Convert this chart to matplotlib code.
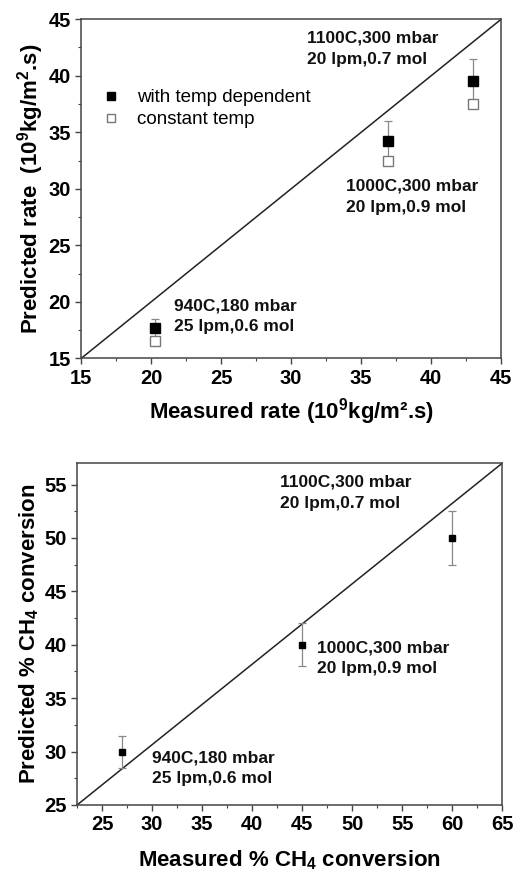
import matplotlib
matplotlib.use('Agg')
import matplotlib.pyplot as plt
from matplotlib.lines import Line2D
from matplotlib.ticker import MultipleLocator

plt.rcParams['font.family'] = ['Liberation Sans', 'DejaVu Sans']
plt.rcParams['mathtext.fontset'] = 'custom'
plt.rcParams['mathtext.rm'] = 'Liberation Sans:bold'
plt.rcParams['mathtext.it'] = 'Liberation Sans:bold'
plt.rcParams['mathtext.bf'] = 'Liberation Sans:bold'

# top panel: rate
rate_measured = [20.3, 36.9, 43.0]
rate_pred_temp = [17.7, 34.2, 39.5]
rate_pred_temp_err = [0.8, 1.8, 2.0]
rate_pred_const = [16.5, 32.5, 37.5]
rate_notes = ['940C,180 mbar\n25 lpm,0.6 mol',
              '1000C,300 mbar\n20 lpm,0.9 mol',
              '1100C,300 mbar\n20 lpm,0.7 mol']
rate_note_xy = [(21.6, 20.3), (33.9, 30.9), (31.1, 44.0)]

# bottom panel: CH4 conversion
conv_measured = [27, 45, 60]
conv_pred = [30, 40, 50]
conv_err = [1.5, 2.0, 2.5]
conv_notes = ['940C,180 mbar\n25 lpm,0.6 mol',
              '1000C,300 mbar\n20 lpm,0.9 mol',
              '1100C,300 mbar\n20 lpm,0.7 mol']
conv_note_xy = [(30.0, 30.1), (46.5, 40.4), (42.8, 55.9)]

fig = plt.figure(figsize=(5.14, 8.74), dpi=100)
ax1 = fig.add_axes([0.158, 0.590, 0.817, 0.388])
ax2 = fig.add_axes([0.150, 0.079, 0.827, 0.391])


def style_axis(ax):
    ax.tick_params(which='both', direction='out', top=False, right=False,
                   color='#444444')
    ax.tick_params(which='major', length=4.5, width=1, labelsize=14.5, pad=3)
    ax.tick_params(which='minor', length=2.5, width=0.8)
    for lbl in ax.get_xticklabels() + ax.get_yticklabels():
        lbl.set_fontweight('bold')
    for s in ax.spines.values():
        s.set_linewidth(1.1)
        s.set_color('#444444')


# ---- top ----
ax1.plot([15, 45], [15, 45], color='#222222', lw=1.1)
ax1.errorbar(rate_measured, rate_pred_temp, yerr=rate_pred_temp_err, fmt='s',
             color='black', ms=6.5, ecolor='#888888', elinewidth=0.9, capsize=3,
             capthick=0.9, zorder=3)
ax1.plot(rate_measured, rate_pred_const, 's', mfc='white', mec='#777777',
         mew=1.0, ms=6.5, zorder=4)
for txt, (x, y) in zip(rate_notes, rate_note_xy):
    ax1.text(x, y, txt, fontsize=12.5, fontweight='bold', va='top', ha='left',
             linespacing=1.5, color='#111111')
ax1.set_xlim(15, 45)
ax1.set_ylim(15, 45)
ax1.xaxis.set_major_locator(MultipleLocator(5))
ax1.xaxis.set_minor_locator(MultipleLocator(2.5))
ax1.yaxis.set_major_locator(MultipleLocator(5))
ax1.yaxis.set_minor_locator(MultipleLocator(2.5))
style_axis(ax1)
ax1.set_xlabel('Measured rate (10$^{9}$kg/m².s)', fontsize=16, fontweight='bold', labelpad=6)
ax1.set_ylabel('Predicted rate  (10$^{9}$kg/m$^{2}$.s)', fontsize=16, fontweight='bold', labelpad=2)
handles = [Line2D([], [], ls='none', marker='s', color='black', ms=6),
           Line2D([], [], ls='none', marker='s', mfc='white', mec='#777777', mew=1.0, ms=6)]
ax1.legend(handles, ['with temp dependent', 'constant temp'], loc='center left',
           bbox_to_anchor=(0.049, 0.736), frameon=False, fontsize=13.5,
           handletextpad=0.9, labelspacing=0.25, handlelength=1.0,
           borderpad=0, borderaxespad=0)

# ---- bottom ----
ax2.plot([22.5, 65], [25, 57], color='#222222', lw=1.1)
ax2.errorbar(conv_measured, conv_pred, yerr=conv_err, fmt='s', color='black',
             ms=4.5, ecolor='#888888', elinewidth=0.9, capsize=3, capthick=0.9,
             zorder=3)
for txt, (x, y) in zip(conv_notes, conv_note_xy):
    ax2.text(x, y, txt, fontsize=12.5, fontweight='bold', va='top', ha='left',
             linespacing=1.5, color='#111111')
ax2.set_xlim(22.5, 65)
ax2.set_ylim(25, 57)
ax2.xaxis.set_major_locator(MultipleLocator(5))
ax2.xaxis.set_minor_locator(MultipleLocator(2.5))
ax2.yaxis.set_major_locator(MultipleLocator(5))
ax2.yaxis.set_minor_locator(MultipleLocator(2.5))
style_axis(ax2)
ax2.set_xlabel('Measured % CH$_{4}$ conversion', fontsize=16, fontweight='bold', labelpad=10)
ax2.set_ylabel('Predicted % CH$_{4}$ conversion', fontsize=16, fontweight='bold', labelpad=2)

fig.savefig('out.png', dpi=100)
